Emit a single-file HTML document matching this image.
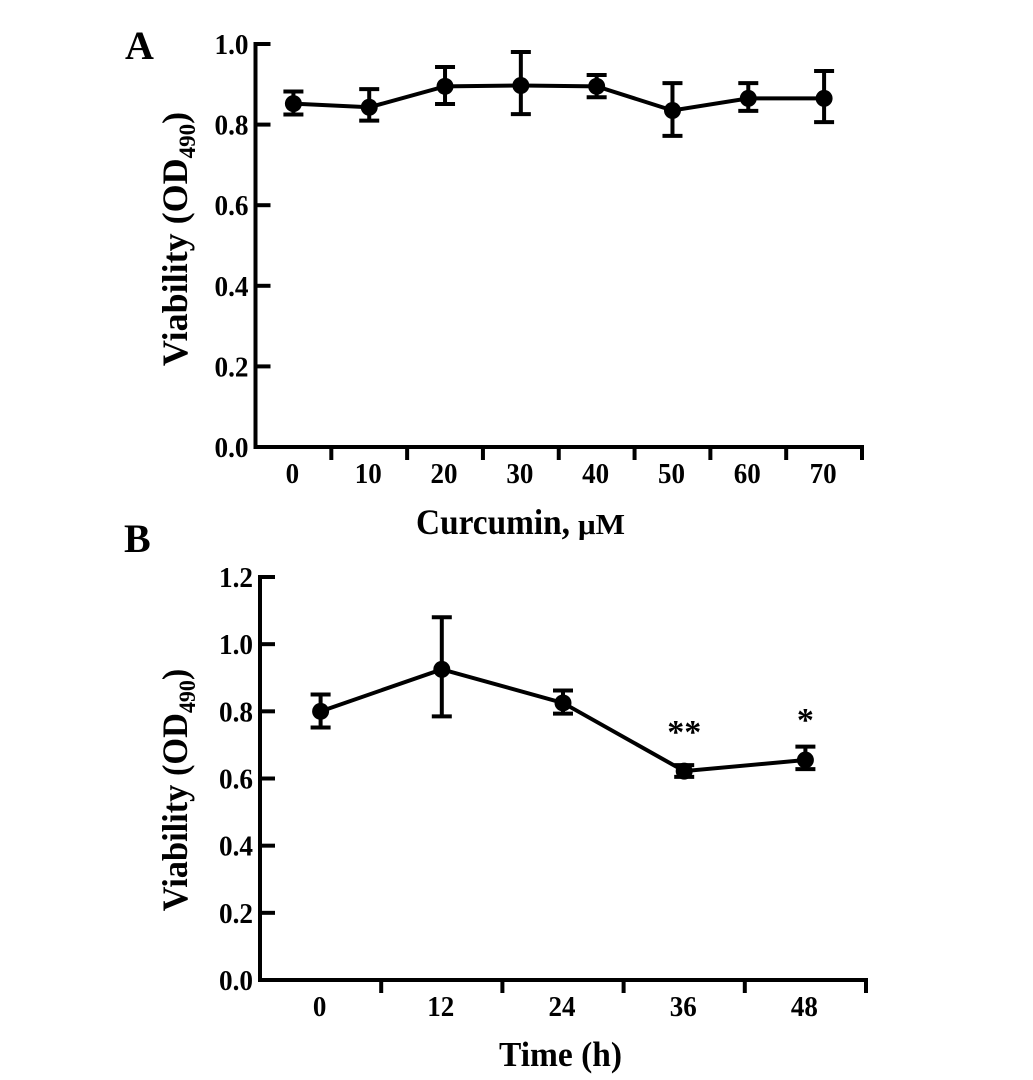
<!DOCTYPE html>
<html lang="en">
<head>
<meta charset="utf-8">
<title>Viability charts</title>
<style>
html,body{margin:0;padding:0;background:#fff;width:1033px;height:1080px;overflow:hidden}
svg{display:block}
text{font-family:"Liberation Serif",serif;font-weight:bold;fill:#000}
</style>
</head>
<body>
<svg id="figure" xmlns="http://www.w3.org/2000/svg" width="1033" height="1080" viewBox="0 0 1033 1080">
  <text x="125" y="59" font-size="40">A</text>
  <text x="124" y="552" font-size="40">B</text>
  <text transform="translate(187,239) rotate(-90)" text-anchor="middle" font-size="36">Viability (OD<tspan font-size="23" dy="8">490</tspan><tspan dy="-8">)</tspan></text>
  <text transform="translate(187,790) rotate(-90) scale(0.955,1)" text-anchor="middle" font-size="36">Viability (OD<tspan font-size="23" dy="8">490</tspan><tspan dy="-8">)</tspan></text>
  <text x="416" y="534" font-size="36" textLength="154" lengthAdjust="spacingAndGlyphs">Curcumin,</text>
  <text x="578" y="534" font-size="28" textLength="47" lengthAdjust="spacingAndGlyphs">μM</text>
  <text x="499" y="1066" font-size="35" textLength="123" lengthAdjust="spacingAndGlyphs">Time (h)</text>
  <g id="panel-a"></g>
  <g id="panel-b"></g>
</svg>
<script>
const doseCategories = ['0', '10', '20', '30', '40', '50', '60', '70'];
const doseValues = [0.852, 0.843, 0.895, 0.897, 0.895, 0.835, 0.865, 0.865];
const doseUpper = [0.882, 0.888, 0.943, 0.98, 0.923, 0.903, 0.903, 0.933];
const doseLower = [0.825, 0.81, 0.851, 0.826, 0.868, 0.772, 0.834, 0.806];
const doseYTicks = ['0.0', '0.2', '0.4', '0.6', '0.8', '1.0'];

const timeCategories = ['0', '12', '24', '36', '48'];
const timeValues = [0.8, 0.925, 0.825, 0.622, 0.655];
const timeUpper = [0.85, 1.08, 0.862, 0.64, 0.695];
const timeLower = [0.752, 0.785, 0.793, 0.605, 0.628];
const timeYTicks = ['0.0', '0.2', '0.4', '0.6', '0.8', '1.0', '1.2'];
const timeMarks = ['', '', '', '**', '*'];
const timeMarkLevels = [0, 0, 0, 0.747, 0.783];

const NS = 'http://www.w3.org/2000/svg';

function make(parent, tag, attrs) {
  const el = document.createElementNS(NS, tag);
  for (const k in attrs) el.setAttribute(k, attrs[k]);
  parent.appendChild(el);
  return el;
}

function drawChart(root, cfg) {
  const scaleY = v => cfg.y0 - (v - 0) * (cfg.y0 - cfg.yTop) / cfg.yMax;
  const step = (cfg.xEnd - cfg.x0) / cfg.categories.length;
  const scaleX = i => cfg.x0 + step * (i + 0.5);
  const line = { stroke: '#000', 'stroke-width': cfg.axisW, fill: 'none' };

  const yAxis = make(root, 'line', Object.assign({ x1: cfg.x0, x2: cfg.x0, y1: cfg.yTop - 2, y2: cfg.y0 + 2 }, line));
  
  
  const xAxis = make(root, 'line', Object.assign({ x1: cfg.x0 - 2, x2: cfg.xEnd + 2, y1: cfg.y0, y2: cfg.y0 }, line));
  
  

  cfg.yTicks.forEach(t => {
    const v = parseFloat(t);
    const y = scaleY(v);
    const tick = make(root, 'line', Object.assign({ x1: cfg.x0, x2: cfg.x0 + 15, y1: y, y2: y }, line));
    
    
    const label = make(root, 'text', { x: cfg.x0 - 41, y: y + 10, 'font-size': 29, textLength: 34, lengthAdjust: 'spacingAndGlyphs' });
    label.textContent = t;
    
    
  });

  cfg.categories.forEach((c, i) => {
    const tx = cfg.x0 + step * (i + 1);
    const tick = make(root, 'line', Object.assign({ x1: tx, x2: tx, y1: cfg.y0, y2: cfg.y0 + 13 }, line));
    
    
    const w = 13.5 * c.length;
    const label = make(root, 'text', { x: scaleX(i) - 1 - w / 2, y: cfg.y0 + 36, 'font-size': 29, textLength: w, lengthAdjust: 'spacingAndGlyphs' });
    label.textContent = c;
    
    
  });

  const pts = cfg.values.map((v, i) => scaleX(i) + ',' + scaleY(v)).join(' ');
  const path = make(root, 'polyline', { points: pts, fill: 'none', stroke: '#000', 'stroke-width': 4 });
  
  

  cfg.values.forEach((v, i) => {
    const x = scaleX(i);
    const up = scaleY(cfg.upper[i]);
    const lo = scaleY(cfg.lower[i]);
    const err = make(root, 'path', {
      d: 'M' + x + ' ' + up + 'V' + lo + 'M' + (x - 10) + ' ' + up + 'H' + (x + 10) + 'M' + (x - 10) + ' ' + lo + 'H' + (x + 10),
      fill: 'none', stroke: '#000', 'stroke-width': 4
    });
    
    
    const pt = make(root, 'circle', { cx: x, cy: scaleY(v), r: 8.5, fill: '#000' });
    
    
    if (cfg.marks && cfg.marks[i]) {
      const m = make(root, 'text', { x: x, y: scaleY(cfg.markLevels[i]) + 14, 'text-anchor': 'middle', 'font-size': 34 });
      m.textContent = cfg.marks[i];
      
      
    }
  });
}

drawChart(document.getElementById('panel-a'), {
  x0: 255.5, xEnd: 862, y0: 447, yTop: 44, yMax: 1.0, axisW: 4,
  categories: doseCategories, values: doseValues, upper: doseUpper, lower: doseLower, yTicks: doseYTicks
});
drawChart(document.getElementById('panel-b'), {
  x0: 260, xEnd: 866, y0: 980, yTop: 577, yMax: 1.2, axisW: 4,
  categories: timeCategories, values: timeValues, upper: timeUpper, lower: timeLower, yTicks: timeYTicks, marks: timeMarks, markLevels: timeMarkLevels
});
</script>
</body>
</html>
